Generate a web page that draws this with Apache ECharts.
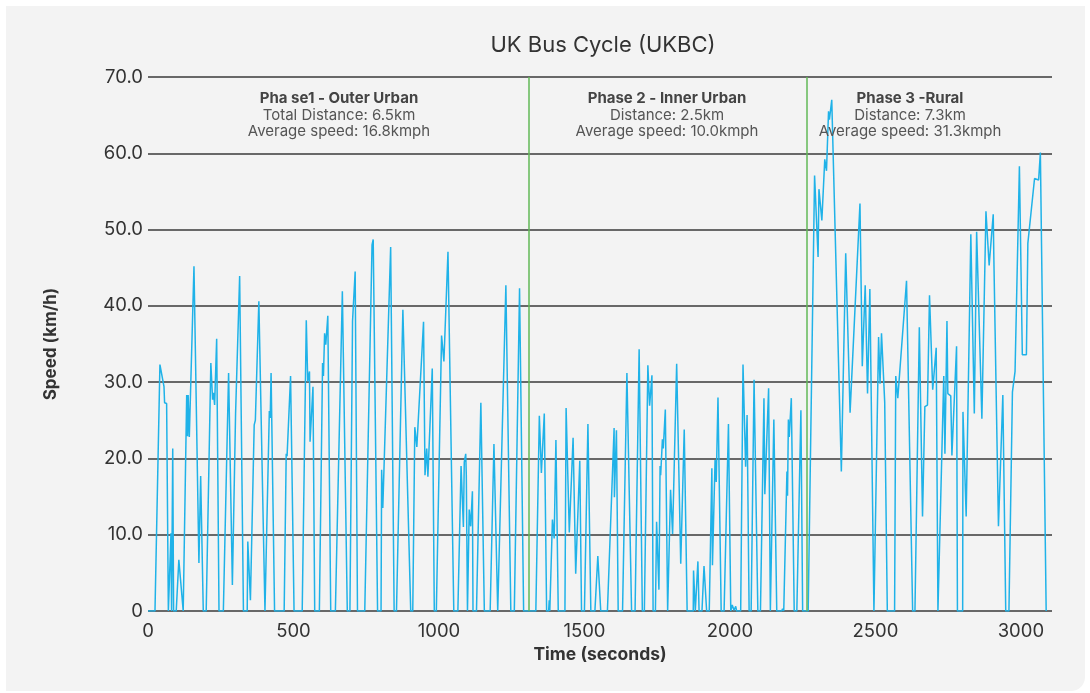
<!DOCTYPE html>
<html><head><meta charset="utf-8">
<script src="https://cdn.jsdelivr.net/npm/echarts@6/dist/echarts.min.js"></script>
<style>
html,body{margin:0;padding:0;background:#fff;width:1090px;height:693px;overflow:hidden}
#panel{position:absolute;left:6px;top:6px;width:1079px;height:685px;background:#f3f3f3;border-bottom-right-radius:14px}
#c{position:absolute;left:0;top:0;width:1090px;height:693px}
</style></head><body>
<div id="panel"></div>
<div id="c"></div>
<script>
const titleText = 'UK Bus Cycle (UKBC)';
const xAxisName = 'Time (seconds)';
const yAxisName = 'Speed (km/h)';
const phaseBoundaries = [1310, 2264];
const phaseTitles = ['Pha se1 - Outer Urban', 'Phase 2 - Inner Urban', 'Phase 3 -Rural'];
const phaseLine1 = ['Total Distance: 6.5km', 'Distance: 2.5km', 'Distance: 7.3km'];
const phaseLine2 = ['Average speed: 16.8kmph', 'Average speed: 10.0kmph', 'Average speed: 31.3kmph'];

const time = [0,24,41,55,57,64,70,74,79,81,85,88,97,106,121,126,133,136,138,142,144,158,175,181,190,200,216,222,225,229,236,244,259,277,290,301,315,328,341,343,352,365,369,381,402,417,420,423,435,468,475,478,490,502,530,544,549,555,557,567,573,589,600,603,607,611,618,628,644,668,685,694,703,706,712,720,745,770,774,789,801,803,807,834,846,854,876,903,910,917,924,947,952,958,962,977,984,991,1009,1017,1031,1051,1065,1076,1084,1087,1092,1094,1098,1104,1109,1115,1117,1129,1144,1156,1176,1189,1202,1207,1230,1247,1259,1277,1291,1333,1345,1352,1362,1370,1377,1379,1381,1385,1390,1396,1402,1410,1433,1437,1448,1461,1470,1484,1490,1500,1512,1522,1536,1546,1556,1579,1602,1603,1610,1616,1631,1646,1662,1674,1688,1699,1706,1718,1724,1732,1736,1744,1748,1756,1760,1762,1768,1771,1778,1786,1792,1796,1803,1817,1831,1843,1853,1874,1875,1881,1890,1894,1904,1911,1920,1929,1938,1940,1949,1953,1959,1970,1980,1995,2003,2008,2014,2020,2023,2037,2045,2054,2059,2066,2073,2083,2096,2105,2117,2120,2133,2139,2145,2151,2161,2178,2181,2185,2196,2198,2201,2204,2211,2221,2230,2244,2250,2269,2291,2303,2306,2316,2326,2332,2339,2342,2350,2383,2398,2413,2447,2455,2465,2473,2481,2495,2511,2516,2521,2532,2541,2566,2570,2577,2607,2628,2636,2651,2662,2670,2679,2686,2697,2709,2715,2720,2735,2739,2746,2749,2759,2763,2779,2782,2800,2801,2812,2828,2840,2848,2866,2880,2891,2905,2907,2913,2923,2938,2948,2959,2971,2980,2995,3005,3019,3024,3047,3061,3067,3087];
const speed = [0,0,32.3,29.4,27.3,27.2,0,0,10.2,0,21.3,0,0,6.7,0,0,28.3,22.9,28.3,22.8,22.9,45.2,6.3,17.7,0,0,32.5,27.7,28.6,27.0,35.7,0,0,31.2,3.4,25.9,43.9,0,0,9.1,1.4,24.4,25.0,40.6,0,26.2,25.3,31.2,0,0,20.6,20.3,30.8,0,0,38.1,30.1,31.4,22.2,29.4,0,0,32.5,30.8,36.4,34.9,38.7,0,0,41.9,0,0,38.0,37.9,44.5,0,0,48.0,48.7,0,0,18.5,13.5,47.7,0,0,39.5,0,0,24.1,21.5,37.9,17.8,21.3,17.6,31.8,0,0,36.1,32.7,47.1,0,0,19.0,11.0,19.5,20.6,17.8,0,13.3,11.1,15.7,0,0,27.3,0,0,21.9,0,0,42.7,0,0,42.3,0,0,25.6,18.1,25.9,0,0,1.4,0,0,12.0,9.5,22.4,0,0,26.6,10.3,22.7,4.9,19.7,0,0,24.5,0,0,7.2,0,0,24.0,14.9,23.7,0,0,31.2,0,0,34.3,0,0,32.2,26.9,30.9,0,0,11.7,2.8,19.0,17.8,22.5,21.3,26.4,0,0,15.9,10.1,32.4,6.2,23.8,0,0,5.3,0,6.5,0,0,5.9,0,0,18.7,6.0,19.8,16.9,28.0,0,0,24.5,0,0.8,0.1,0.6,0,0,32.3,18.9,25.7,0,0,30.3,0,0,27.9,15.3,29.2,0,0,25.1,0,0,0.3,0,18.3,15.1,25.1,22.8,27.9,0,0,26.3,0,0,57.1,46.4,55.3,51.2,59.2,57.7,65.5,64.4,67.0,18.3,46.9,26.0,53.4,32.1,42.7,28.5,42.2,0,35.9,29.8,36.4,27.4,0,0,30.8,27.9,43.3,0,0,37.2,12.4,26.8,27.0,41.4,29.0,34.5,0,0,30.8,20.6,38.0,28.5,28.2,20.4,34.7,0,0,26.1,12.4,49.4,25.9,49.7,25.2,52.4,45.3,52.0,46.6,46.4,11.1,28.3,0,0,28.7,31.4,58.3,33.6,33.6,48.2,56.7,56.5,60.1,0];

const FONT = 'Inter, "Noto Sans", sans-serif';
const chart = echarts.init(document.getElementById('c'), null, {renderer:'canvas'});
const gridLeft = 148, gridRight = 38, gridTop = 77, gridBottom = 82;

function phaseText(i, cx) {
  return {
    type: 'text', x: cx, y: 90, z: 10,
    style: {
      text: '{b|' + phaseTitles[i] + '}\n{n|' + phaseLine1[i] + '}\n{n|' + phaseLine2[i] + '}',
      textAlign: 'center', align: 'center', verticalAlign: 'top', textVerticalAlign: 'top',
      rich: {
        b: {fontFamily: FONT, fontSize: 15, fontWeight: 'bold', fill: '#444', color: '#444', lineHeight: 17, align: 'center'},
        n: {fontFamily: FONT, fontSize: 15, fill: '#555', color: '#555', lineHeight: 16.5, align: 'center'}
      }
    }
  };
}

chart.setOption({
  backgroundColor: 'transparent',
  animation: false,
  title: {text: titleText, left: 598, top: 29, textAlign: 'center',
    textStyle: {fontFamily: FONT, fontSize: 22, fontWeight: 'normal', color: '#333'}},
  grid: {left: gridLeft, right: gridRight, top: gridTop, bottom: gridBottom},
  xAxis: {
    type: 'value', min: 0, max: 3107, interval: 500,
    name: xAxisName, nameLocation: 'middle', nameGap: 35,
    nameTextStyle: {fontFamily: FONT, fontSize: 17.5, fontWeight: 'bold', color: '#333'},
    axisLine: {show: false}, axisTick: {show: false}, splitLine: {show: false},
    axisLabel: {fontFamily: FONT, fontSize: 18.5, color: '#333', margin: 11,
      showMaxLabel: false, formatter: v => String(v)}
  },
  yAxis: {
    type: 'value', min: 0, max: 70, interval: 10,
    name: yAxisName, nameLocation: 'middle', nameGap: 89, nameRotate: 90,
    nameTextStyle: {fontFamily: FONT, fontSize: 17, fontWeight: 'bold', color: '#333'},
    axisLine: {show: false}, axisTick: {show: false},
    splitLine: {lineStyle: {color: '#3a3a3a', width: 1.5}},
    axisLabel: {fontFamily: FONT, fontSize: 18.5, color: '#333', margin: 5,
      formatter: v => v === 0 ? '0' : v.toFixed(1)}
  },
  graphic: [phaseText(0, 339), phaseText(1, 667), phaseText(2, 910)],
  series: [{
    type: 'line', showSymbol: false, symbol: 'none',
    data: time.map((t, i) => [t, speed[i]]),
    lineStyle: {color: '#1fb2e8', width: 1.5},
    itemStyle: {color: '#1fb2e8'},
    z: 3,
    markLine: {
      silent: true, symbol: ['none', 'none'], label: {show: false},
      lineStyle: {color: '#62b857', width: 1.5, type: 'solid'},
      data: phaseBoundaries.map(b => ({xAxis: b}))
    }
  }]
});
</script>
</body></html>
